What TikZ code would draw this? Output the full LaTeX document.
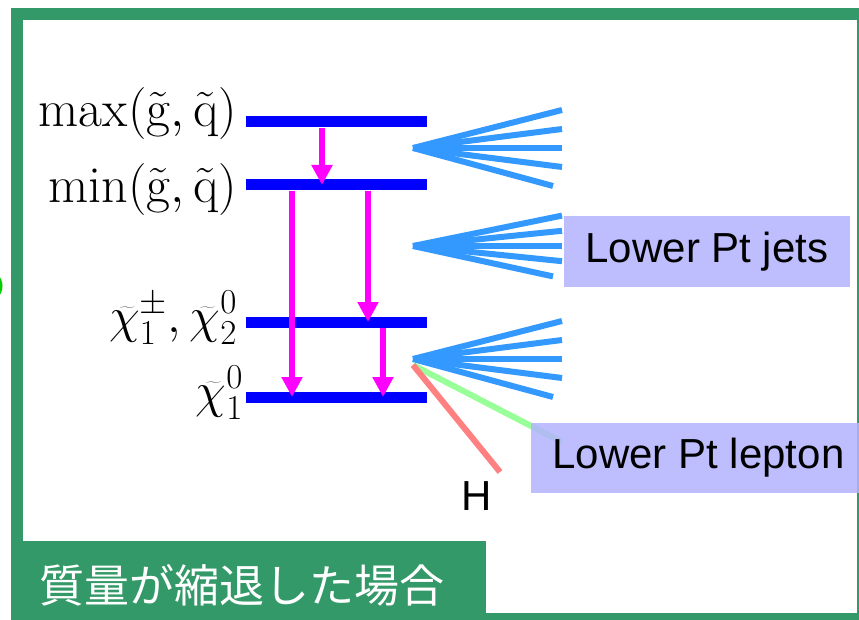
\RequirePackage{fix-cm}
\documentclass[tikz,border=0pt]{standalone}
\usepackage{fontspec}
\setsansfont{Liberation Sans}
\newfontfamily\jpfont{Noto Sans CJK JP}
\usetikzlibrary{arrows.meta,positioning}
\definecolor{framegreen}{RGB}{52,153,104}
\definecolor{levelblue}{RGB}{0,0,255}
\definecolor{decaymagenta}{RGB}{255,0,255}
\definecolor{jetblue}{RGB}{51,153,255}
\definecolor{leptongreen}{RGB}{153,255,153}
\definecolor{higgsred}{RGB}{255,128,128}
\definecolor{boxviolet}{RGB}{179,179,255}
\newcommand{\jetfan}[2]{% apex, spread
  \foreach \dx/\dy in {149/-38, 149/-19, 149/0, 149/19, 140/38}
    \draw[jet] (#1) -- +(\dx,{#2*\dy});
}

\begin{document}
\begin{tikzpicture}[x=1pt, y=-1pt,
    level/.style={rectangle, fill=levelblue, minimum width=181pt, minimum height=11pt, inner sep=0pt},
    lvlabel/.style={anchor=base east, inner sep=0pt, font=\fontsize{52}{56}\selectfont},
    chilabel/.style={anchor=base east, inner sep=0pt, font=\fontsize{50}{54}\selectfont},
    decay/.style={-{Triangle[width=20pt,length=20pt]}, line width=6pt, draw=decaymagenta},
    jet/.style={line width=6pt, draw=jetblue},
    ptbox/.style={rectangle, fill=boxviolet, fill opacity=0.85, text opacity=1, inner sep=0pt, font=\sffamily\fontsize{42}{46}\selectfont}]
  \useasboundingbox (0,0) rectangle (859,620);
  \clip (0,0) rectangle (859,620);

  % frame and caption
  \draw[framegreen, line width=12pt] (17,14) rectangle (863,619);
  \draw[green!80!black, line width=3pt] (-14,286) circle (15);
  \node[rectangle, fill=framegreen, anchor=north west, minimum width=475pt, minimum height=85pt, inner sep=0pt] (caption) at (11,541) {};
  \node[anchor=west, text=white, inner sep=0pt, font=\jpfont\fontsize{45}{48}\selectfont] (captext) at (39,585) {質量が縮退した場合};

  % mass levels
  \node[level] (gmax) at (336.5,122) {};
  \node[level] (gmin) at (336.5,185) {};
  \node[level] (chi2) at (336.5,322) {};
  \node[level] (lsp) at (336.5,397) {};
  \node[lvlabel] (gmaxlab) at (237,127) {$\mathrm{max}(\tilde{\mathrm{g}},\tilde{\mathrm{q}})$};
  \node[lvlabel] (gminlab) at (237,203) {$\mathrm{min}(\tilde{\mathrm{g}},\tilde{\mathrm{q}})$};
  \node[chilabel] (chi2lab) at (237,332) {$\widetilde{\chi}_1^{\pm},\widetilde{\chi}_2^{0}$};
  \node[chilabel] (lsplab) at (243,407) {$\widetilde{\chi}_1^{0}$};

  % decays
  \draw[decay] ([xshift=-14.5pt]gmax.south) -- ([xshift=-14.5pt]gmin.center);
  \draw[decay] ([xshift=-44.5pt]gmin.south) -- ([xshift=-44.5pt]lsp.center);
  \draw[decay] ([xshift=31.5pt]gmin.south) -- ([xshift=31.5pt]chi2.center);
  \draw[decay] ([xshift=46.5pt]chi2.south) -- ([xshift=46.5pt]lsp.center);

  % jets
  \coordinate (jetA) at (413,148);
  \coordinate (jetB) at (413,246);
  \coordinate (jetC) at (413,359);
  \coordinate (lepstart) at (413,365);
  \coordinate (lepend) at (562,442);
  \coordinate (hend) at (500,472);
  \jetfan{jetA}{1}
  \jetfan{jetB}{0.8}
  \jetfan{jetC}{1}
  \draw[leptongreen, line width=6pt] (lepstart) -- (lepend);
  \draw[higgsred, line width=6pt] (lepstart) -- (hend);
  \node[anchor=base, inner sep=0pt, font=\sffamily\fontsize{42}{46}\selectfont] (hlab) at (477,510) {H};

  % labels
  \node[ptbox, minimum width=286pt, minimum height=71pt] (jetbox) at (707,251.5) {Lower Pt jets};
  \node[ptbox, minimum width=335pt, minimum height=70pt] (lepbox) at (698.5,458) {Lower Pt lepton};
\end{tikzpicture}
\end{document}
